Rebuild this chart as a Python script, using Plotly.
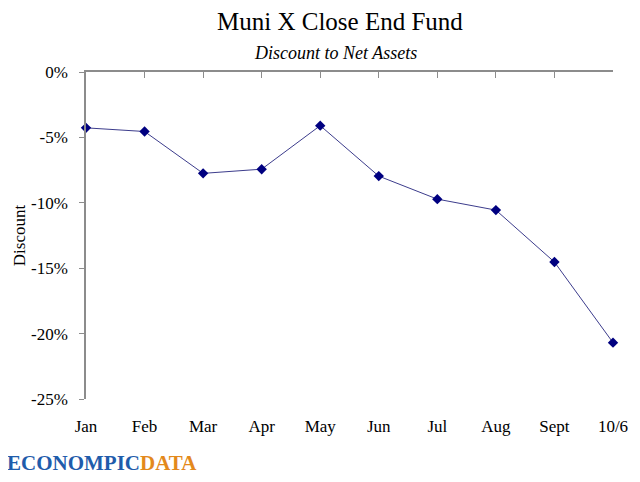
import plotly.graph_objects as go

# monthly discount to NAV (%)
months = ["Jan", "Feb", "Mar", "Apr", "May", "Jun", "Jul", "Aug", "Sept", "10/6"]
discount = [-4.27, -4.55, -7.75, -7.43, -4.1, -7.96, -9.72, -10.56, -14.53, -20.69]

y_ticks = [0, -5, -10, -15, -20, -25]
y_labels = ["0%", "-5%", "-10%", "-15%", "-20%", "-25%"]

serif = "Liberation Serif"
grey = "#8c8c8c"

# the page body has an 8px margin, so the figure sits at (8, 8) in the window
OFF = 8
W, H = 640, 482
L, R, T, B = 86 - OFF, 35, 72 - OFF, 91
pw, ph = W - L - R, H - T - B


def px_y(y):
    return (H - B - (y - OFF)) / ph


def px_x(x):
    return (x - OFF - L) / pw


fig = go.Figure()
fig.add_trace(go.Scatter(
    x=list(range(len(months))), y=discount, mode="lines+markers",
    line=dict(color="#3c3c8c", width=1),
    marker=dict(symbol="diamond", size=8, color="#000080"),
    cliponaxis=False, showlegend=False))
fig.add_trace(go.Scatter(x=[0], y=[None], xaxis="x2", showlegend=False, hoverinfo="skip"))

fig.update_layout(
    width=W, height=H,
    paper_bgcolor="white", plot_bgcolor="white",
    margin=dict(l=L, r=R, t=T, b=B),
    font=dict(family=serif, size=16, color="#000000"),
    # bottom axis: labels only
    xaxis=dict(range=[0, 9], tickvals=list(range(len(months))), ticktext=months,
               showline=False, showgrid=False, zeroline=False, ticks="",
               tickfont=dict(size=17), ticklabelstandoff=15, automargin=False),
    # top axis: the line at 0% with ticks pointing down
    xaxis2=dict(range=[0, 9], overlaying="x", matches="x", side="top",
                tickvals=list(range(len(months))), showticklabels=False,
                showline=True, linecolor=grey, linewidth=1.5, automargin=False,
                ticks="inside", ticklen=6, tickcolor=grey, showgrid=False, zeroline=False),
    yaxis=dict(range=[-25, 0], tickvals=y_ticks, ticktext=y_labels,
               showline=True, linecolor=grey, linewidth=1.5,
               ticks="outside", ticklen=5, tickcolor=grey, automargin=False,
               showgrid=False, zeroline=False, tickfont=dict(size=17), ticklabelstandoff=8,
               title=dict(text="Discount", font=dict(size=17), standoff=1)),
    annotations=[
        dict(text="Muni X Close End Fund", x=px_x(340), y=px_y(22), xref="paper", yref="paper",
             yanchor="middle", showarrow=False, font=dict(size=25)),
        dict(text="<i>Discount to Net Assets</i>", x=px_x(335), y=px_y(53), xref="paper",
             yref="paper", yanchor="middle", showarrow=False, font=dict(size=18)),
        dict(text="<b><span style='color:#1f5cab'>ECONOMPIC</span><span style='color:#e3891c'>DATA</span></b>",
             x=px_x(5), y=px_y(463), xref="paper", yref="paper", xanchor="left", yanchor="middle",
             showarrow=False, font=dict(family=serif, size=21)),
    ],
)

fig.write_html("out.html")
